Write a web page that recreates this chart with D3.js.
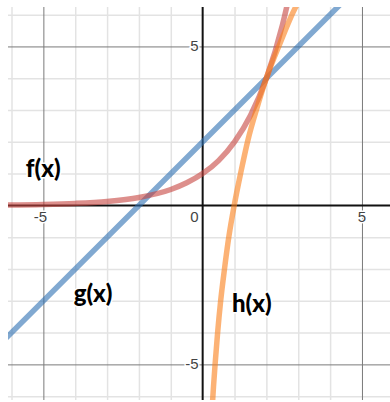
<!DOCTYPE html>
<html>
<head>
<meta charset="utf-8">
<script src="https://cdn.jsdelivr.net/npm/d3@7"></script>
<style>
  html, body { margin: 0; padding: 0; background: #fff; }
  svg { display: block; }
</style>
</head>
<body>
<svg id="chart" width="390" height="402"></svg>
<script>
// f(x): exponential curve, sampled points
const fX = [-6.2, -5, -4, -3, -2, -1, -0.5, 0, 0.5, 1, 1.5, 2, 2.5, 2.75];
const fY = [0.014, 0.031, 0.063, 0.125, 0.25, 0.5, 0.71, 1, 1.41, 2, 2.83, 4, 5.66, 6.73];

// g(x): straight line, end points
const gX = [-6.2, 4.5];
const gY = [-4.2, 6.5];

// h(x): logarithmic curve, sampled points
const hX = [0.29, 0.34, 0.39, 0.47, 0.565, 0.685, 0.82, 0.99, 1.2, 1.42, 1.7, 2.0, 2.43, 2.9, 3.1];
const hY = [-6.5, -5.7, -5.0, -4.0, -3.0, -2.0, -1.0, 0, 1.05, 2.05, 3.05, 4.0, 5.1, 6.2, 6.55];

// Axis tick labels
const xTickLabels = [-5, 0, 5];
const yTickLabels = [5, -5];

// Curve name labels with their anchor coordinates
const curveNames = ["f(x)", "g(x)", "h(x)"];
const nameX = [-5.55, -4.05, 0.92];
const nameY = [0.9, -3.05, -3.35];

const svg = d3.select("#chart");
const plotL = 8, plotR = 390, plotT = 7, plotB = 400;

const x = d3.scaleLinear().domain([-6.11, 5.88]).range([plotL, plotR]);
const y = d3.scaleLinear().domain([-6.12, 6.24]).range([plotB, plotT]);

svg.append("clipPath").attr("id", "plot")
  .append("rect").attr("x", plotL).attr("y", plotT)
  .attr("width", plotR - plotL).attr("height", plotB - plotT);

const plot = svg.append("g").attr("clip-path", "url(#plot)");

const intX = d3.range(-6, 6).filter(v => v !== 0);
const intY = d3.range(-6, 7).filter(v => v !== 0);
const minorX = intX.filter(v => Math.abs(v) !== 5);
const minorY = intY.filter(v => Math.abs(v) !== 5);

// Minor grid
const gridMinorX = plot.append("g")
  .attr("transform", `translate(0,${plotB})`)
  .call(d3.axisBottom(x).tickValues(minorX).tickSize(-(plotB - plotT)).tickFormat(""));
const gridMinorY = plot.append("g")
  .attr("transform", `translate(${plotL},0)`)
  .call(d3.axisLeft(y).tickValues(minorY).tickSize(-(plotR - plotL)).tickFormat(""));
[gridMinorX, gridMinorY].forEach(g => {
  g.select(".domain").remove();
  g.selectAll("line").attr("stroke", "#e3e3e3").attr("stroke-width", 1.5);
});

// Major grid
const gridMajorX = plot.append("g")
  .attr("transform", `translate(0,${plotB})`)
  .call(d3.axisBottom(x).tickValues([-5, 5]).tickSize(-(plotB - plotT)).tickFormat(""));
const gridMajorY = plot.append("g")
  .attr("transform", `translate(${plotL},0)`)
  .call(d3.axisLeft(y).tickValues([-5, 5]).tickSize(-(plotR - plotL)).tickFormat(""));
[gridMajorX, gridMajorY].forEach(g => {
  g.select(".domain").remove();
  g.selectAll("line").attr("stroke", "#7a7a7a").attr("stroke-width", 1);
});

// Axes
plot.append("line").attr("x1", plotL).attr("x2", plotR)
  .attr("y1", y(0)).attr("y2", y(0)).attr("stroke", "#111").attr("stroke-width", 2);
plot.append("line").attr("x1", x(0)).attr("x2", x(0))
  .attr("y1", plotT).attr("y2", plotB).attr("stroke", "#111").attr("stroke-width", 2);

// Tick labels
const tickStyle = sel => sel
  .attr("font-family", "'Liberation Sans', Arial, sans-serif")
  .attr("font-size", 15)
  .attr("fill", "#444")
  .attr("stroke", "#fff").attr("stroke-width", 3).attr("paint-order", "stroke");

svg.append("g").selectAll("text").data(xTickLabels).join("text")
  .attr("x", d => d === 0 ? x(0) - 4 : x(d) - (d < 0 ? 3 : 0))
  .attr("y", y(0) + 17)
  .attr("text-anchor", d => d === 0 ? "end" : "middle")
  .text(d => d < 0 ? "-" + Math.abs(d) : d)
  .call(tickStyle);

svg.append("g").selectAll("text").data(yTickLabels).join("text")
  .attr("x", x(0) - 4)
  .attr("y", d => y(d) + 5)
  .attr("text-anchor", "end")
  .text(d => d < 0 ? "-" + Math.abs(d) : d)
  .call(tickStyle);

// Curves
const line = d3.line().x(d => x(d[0])).y(d => y(d[1])).curve(d3.curveMonotoneX);
const series = [
  { xs: gX, ys: gY, color: "#2d70b3" },
  { xs: fX, ys: fY, color: "#c74440" },
  { xs: hX, ys: hY, color: "#fa7e19" }
];
series.forEach(s => {
  plot.append("path")
    .datum(d3.zip(s.xs, s.ys))
    .attr("d", line)
    .attr("fill", "none")
    .attr("stroke", s.color)
    .attr("stroke-opacity", 0.6)
    .attr("stroke-width", 5.5)
    .attr("stroke-linecap", "round");
});

// Curve names
svg.append("g").selectAll("text").data(curveNames).join("text")
  .attr("x", (d, i) => x(nameX[i]))
  .attr("y", (d, i) => y(nameY[i]))
  .attr("font-family", "Lato, 'Open Sans', sans-serif")
  .attr("font-weight", 900)
  .attr("font-size", 24)
  .attr("fill", "#000")
  .attr("stroke", "#fff").attr("stroke-width", 3).attr("paint-order", "stroke")
  .text(d => d);
</script>
</body>
</html>
